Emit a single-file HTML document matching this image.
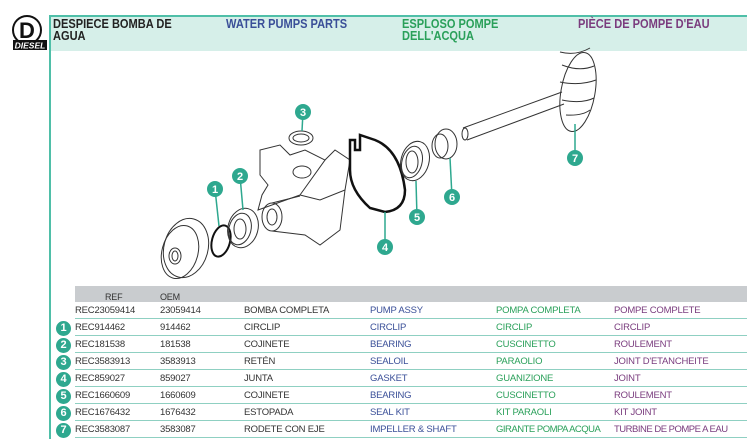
<!DOCTYPE html>
<html><head><meta charset="utf-8"><style>
body{margin:0;width:747px;height:444px;background:#fff;position:relative;overflow:hidden;font-family:"Liberation Sans",sans-serif}
.band{position:absolute;left:50px;top:15px;width:697px;height:34px;background:#d6efe9;border-top:2px solid #4fbfa8}
.vl{position:absolute;left:49px;top:15px;width:2px;height:424px;background:#4fbfa8}
.h{position:absolute;font-size:13px;font-weight:bold;line-height:12px;top:18px;transform:scaleX(.85);transform-origin:left top}
table{position:absolute;left:75px;top:286px;border-collapse:collapse;font-size:9.5px;width:672px;table-layout:fixed}
td{height:16px;padding:0;border-bottom:1px solid #8fd0c2;white-space:nowrap;overflow:hidden;color:#333;letter-spacing:-0.2px}
tr.hd td{background:#c9cccf;height:16px;border-bottom:none;font-size:9px;vertical-align:bottom}
.b{color:#3a4f98}.g{color:#2aa05a}.p{color:#7a3c7e}
.n{position:absolute;left:56px;width:15px;height:15px;border-radius:50%;background:#2ea88f;color:#fff;font-weight:bold;font-size:11px;text-align:center;line-height:15px}
</style></head><body>
<div class="band"></div><div class="vl"></div>
<svg style="position:absolute;left:0;top:0" width="747" height="444">
<circle cx="27" cy="30" r="14" fill="#fff" stroke="#111" stroke-width="2"/>
<text x="27" y="38" font-family="Liberation Sans" font-weight="bold" font-size="22" text-anchor="middle" fill="#111">D</text>
<rect x="13" y="40" width="34" height="10" fill="#111"/>
<text x="30" y="48.5" font-family="Liberation Sans" font-weight="bold" font-style="italic" font-size="8.5" text-anchor="middle" fill="#fff">DIESEL</text>
<g fill="none" stroke="#333" stroke-width="1">
<ellipse cx="186" cy="248" rx="22" ry="30" transform="rotate(15 186 248)"/>
<ellipse cx="180" cy="252" rx="18" ry="27" transform="rotate(15 180 252)"/>
<ellipse cx="175" cy="256" rx="6" ry="8"/><ellipse cx="175" cy="256" rx="3" ry="5"/>
<ellipse cx="221" cy="241" rx="9" ry="16" stroke="#111" stroke-width="2" transform="rotate(15 221 241)"/>
<ellipse cx="243" cy="228" rx="15" ry="20" transform="rotate(15 243 228)"/>
<ellipse cx="240" cy="229" rx="11" ry="16" transform="rotate(15 240 229)"/>
<ellipse cx="240" cy="229" rx="6" ry="10"/>
<path d="M258 210 L300 195 L325 160 L305 150 L290 155 L280 145 L260 150 L260 175 L268 185 L262 195 Z"/>
<path d="M300 195 L320 200 L345 190 L350 160 L335 150 L325 160"/>
<ellipse cx="272" cy="217" rx="10" ry="14"/><ellipse cx="272" cy="217" rx="5" ry="8"/>
<path d="M272 203 L300 196 M272 231 L305 235 L320 245 L340 230 L345 190"/>
<ellipse cx="302" cy="172" rx="9" ry="6"/>
<ellipse cx="301" cy="138" rx="12" ry="7"/><ellipse cx="301" cy="138" rx="8" ry="4"/>
<path d="M350 140 L355 140 L355 150 L360 150 L360 135 L375 140 Q400 150 405 190 Q405 210 385 212 L370 208 Q350 190 350 170 Z" stroke="#111" stroke-width="2.5"/>
<ellipse cx="415" cy="161" rx="14" ry="20" transform="rotate(15 415 161)"/>
<ellipse cx="412" cy="162" rx="10" ry="16" transform="rotate(15 412 162)"/>
<ellipse cx="412" cy="162" rx="6" ry="11"/>
<ellipse cx="446" cy="144" rx="11" ry="15"/><ellipse cx="440" cy="146" rx="8" ry="12"/>
<path d="M463 128 L562 92 M467 140 L564 104"/>
<ellipse cx="465" cy="134" rx="3" ry="6"/>
<ellipse cx="578" cy="92" rx="17" ry="40" transform="rotate(10 578 92)"/>
<path d="M562 65 Q580 72 594 66 M560 82 Q580 86 596 80 M562 100 Q582 104 594 98 M566 115 Q582 116 590 110 M560 52 Q576 56 590 48"/>
</g>
<g stroke="#2ea88f" stroke-width="1.5">
<line x1="215" y1="189" x2="219" y2="226"/><line x1="240" y1="176" x2="243" y2="210"/>
<line x1="303" y1="112" x2="302" y2="131"/><line x1="385" y1="247" x2="385" y2="212"/>
<line x1="417" y1="217" x2="416" y2="181"/><line x1="452" y1="197" x2="450" y2="158"/>
<line x1="575" y1="158" x2="575" y2="124"/>
</g>
<g fill="#2ea88f">
<circle cx="215" cy="189" r="8"/><circle cx="240" cy="176" r="8"/><circle cx="303" cy="112" r="8"/>
<circle cx="385" cy="247" r="8"/><circle cx="417" cy="217" r="8"/><circle cx="452" cy="197" r="8"/><circle cx="575" cy="158" r="8"/>
</g>
<g fill="#fff" font-family="Liberation Sans" font-weight="bold" font-size="11" text-anchor="middle">
<text x="215" y="193">1</text><text x="240" y="180">2</text><text x="303" y="116">3</text><text x="385" y="251">4</text><text x="417" y="221">5</text><text x="452" y="201">6</text><text x="575" y="162">7</text>
</g>
</svg>
<div class="h" style="left:53px;color:#222">DESPIECE BOMBA DE<br>AGUA</div>
<div class="h" style="left:226px;color:#3a4f98">WATER PUMPS PARTS</div>
<div class="h" style="left:402px;color:#2aa05a">ESPLOSO POMPE<br>DELL'ACQUA</div>
<div class="h" style="left:578px;color:#7a3c7e">PIÈCE DE POMPE D'EAU</div>
<table>
<colgroup><col style="width:85px"><col style="width:84px"><col style="width:126px"><col style="width:126px"><col style="width:118px"><col style="width:133px"></colgroup>
<tr class="hd"><td style="padding-left:30px">REF</td><td>OEM</td><td></td><td></td><td></td><td></td></tr>
<tr><td>REC23059414</td><td>23059414</td><td>BOMBA COMPLETA</td><td class="b">PUMP ASSY</td><td class="g">POMPA COMPLETA</td><td class="p">POMPE COMPLETE</td></tr>
<tr><td>REC914462</td><td>914462</td><td>CIRCLIP</td><td class="b">CIRCLIP</td><td class="g">CIRCLIP</td><td class="p">CIRCLIP</td></tr>
<tr><td>REC181538</td><td>181538</td><td>COJINETE</td><td class="b">BEARING</td><td class="g">CUSCINETTO</td><td class="p">ROULEMENT</td></tr>
<tr><td>REC3583913</td><td>3583913</td><td>RETÉN</td><td class="b">SEALOIL</td><td class="g">PARAOLIO</td><td class="p">JOINT D'ETANCHEITE</td></tr>
<tr><td>REC859027</td><td>859027</td><td>JUNTA</td><td class="b">GASKET</td><td class="g">GUANIZIONE</td><td class="p">JOINT</td></tr>
<tr><td>REC1660609</td><td>1660609</td><td>COJINETE</td><td class="b">BEARING</td><td class="g">CUSCINETTO</td><td class="p">ROULEMENT</td></tr>
<tr><td>REC1676432</td><td>1676432</td><td>ESTOPADA</td><td class="b">SEAL KIT</td><td class="g">KIT PARAOLI</td><td class="p">KIT JOINT</td></tr>
<tr><td>REC3583087</td><td>3583087</td><td>RODETE CON EJE</td><td class="b">IMPELLER &amp; SHAFT</td><td class="g" style="letter-spacing:-0.5px">GIRANTE POMPA ACQUA</td><td class="p" style="letter-spacing:-0.5px">TURBINE DE POMPE A EAU</td></tr>
</table>
<div class="n" style="top:321px">1</div><div class="n" style="top:338px">2</div><div class="n" style="top:355px">3</div><div class="n" style="top:372px">4</div><div class="n" style="top:389px">5</div><div class="n" style="top:406px">6</div><div class="n" style="top:423px">7</div>
</body></html>
